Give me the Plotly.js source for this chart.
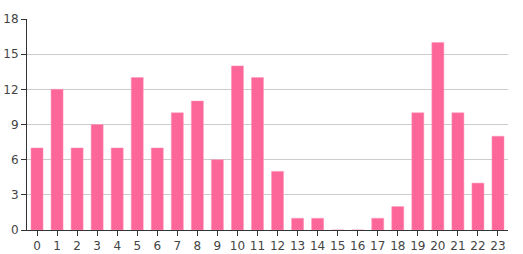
<!DOCTYPE html>
<html>
<head>
<meta charset="utf-8">
<script src="https://cdn.plot.ly/plotly-3.0.1.min.js"></script>
<style>html,body{margin:0;padding:0;background:#fff;}#chart{width:523px;height:254px;}</style>
</head>
<body>
<div id="chart"></div>
<script>
const hours = ["0","1","2","3","4","5","6","7","8","9","10","11","12","13","14","15","16","17","18","19","20","21","22","23"];
const counts = [7,12,7,9,7,13,7,10,11,6,14,13,5,1,1,0,0,1,2,10,16,10,4,8];

const data = [{
  type: 'bar',
  x: hours,
  y: counts,
  marker: {color: '#fd6699', line: {color: 'rgba(255,150,190,0.5)', width: 1}},
  hoverinfo: 'x+y'
}];

const layout = {
  width: 523, height: 254,
  margin: {l: 27, r: 15, t: 19, b: 24, pad: 0},
  paper_bgcolor: '#fff', plot_bgcolor: '#fff',
  bargap: 0.4,
  showlegend: false,
  font: {family: 'DejaVu Sans, sans-serif', size: 12, color: '#333'},
  xaxis: {
    type: 'category',
    showline: true, linecolor: '#333', linewidth: 1,
    ticks: 'outside', ticklen: 5, tickcolor: '#333',
    showgrid: false, zeroline: false,
    tickfont: {size: 12, color: '#444'}
  },
  yaxis: {
    range: [0, 18], dtick: 3, tick0: 0,
    showline: true, linecolor: '#333', linewidth: 1,
    ticks: 'outside', ticklen: 5, tickcolor: '#333',
    showgrid: true, gridcolor: '#ccc', gridwidth: 1,
    zeroline: false,
    tickfont: {size: 12, color: '#444'}
  }
};

Plotly.newPlot('chart', data, layout, {displayModeBar: false, staticPlot: true});
</script>
</body>
</html>
